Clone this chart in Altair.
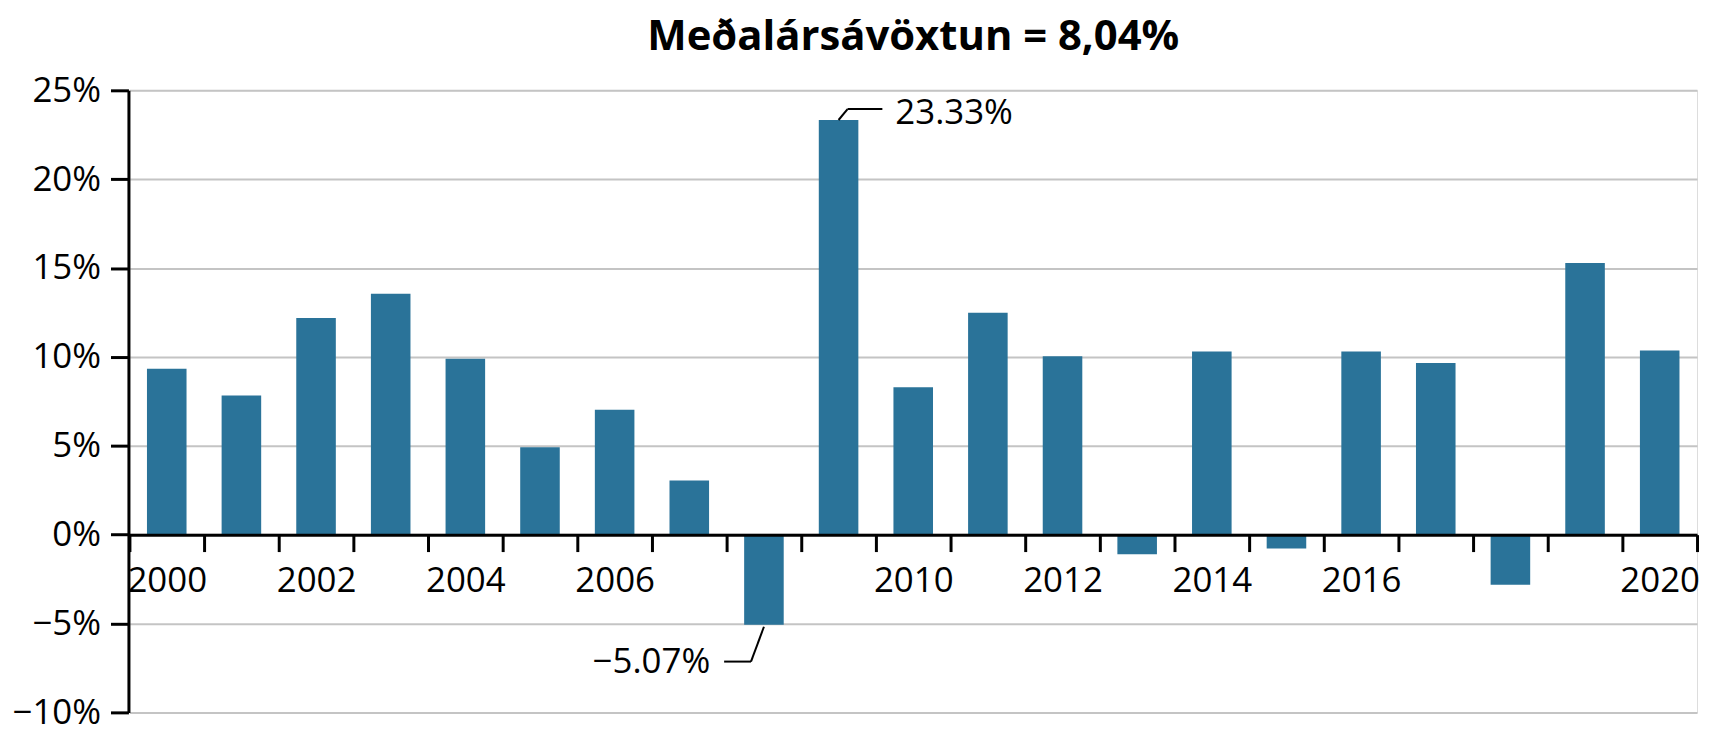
import altair as alt
import pandas as pd

# ---- data ----
years = ["2000", "2001", "2002", "2003", "2004", "2005", "2006", "2007", "2008", "2009", "2010",
         "2011", "2012", "2013", "2014", "2015", "2016", "2017", "2018", "2019", "2020"]
returns = [9.33, 7.83, 12.19, 13.56, 9.89, 4.92, 7.03, 3.05, -5.07, 23.33, 8.30,
           12.49, 10.04, -1.10, 10.31, -0.78, 10.30, 9.66, -2.82, 15.29, 10.36]
shown_year_labels = ["2000", "2002", "2004", "2006", "2010", "2012", "2014", "2016", "2020"]
y_ticks = [-10, -5, 0, 5, 10, 15, 20, 25]
title_text = "Meðalársávöxtun = 8,04%"

df = pd.DataFrame({"year": years, "value": returns})
df["pos"] = df["year"].astype(int)
top_row = df.loc[[df["value"].idxmax()]]
low_row = df.loc[[df["value"].idxmin()]]

FONT = "Open Sans"
BAR = "#2a7399"
W, H = 1575, 625
ZERO_OFFSET = -(H * 10 / 35)  # move the x axis up to the 0% line

label_list = ",".join("'%s'" % s for s in shown_year_labels)

bars = alt.Chart(df).mark_bar(color=BAR, width=alt.RelativeBandSize(0.53)).encode(
    x=alt.X("year:N", sort=years,
            scale=alt.Scale(paddingInner=0, paddingOuter=0),
            axis=alt.Axis(title=None, offset=ZERO_OFFSET, zindex=1,
                          domainColor="black", domainWidth=3,
                          tickBand="extent", tickColor="black", tickWidth=3, tickSize=17,
                          labelFont=FONT, labelFontSize=35, labelColor="black",
                          labelPadding=12, labelAngle=0, labelOverlap=False,
                          labelExpr="indexof([" + label_list + "], datum.value) >= 0 ? datum.value : ''",
                          grid=False)),
    y=alt.Y("value:Q",
            scale=alt.Scale(domain=[-10, 25], nice=False, zero=False),
            axis=alt.Axis(title=None, values=y_ticks, offset=1,
                          labelExpr="datum.label + '%'",
                          domainColor="black", domainWidth=3,
                          tickColor="black", tickWidth=3, tickSize=18,
                          labelFont=FONT, labelFontSize=35, labelColor="black",
                          labelPadding=10,
                          gridColor="#c4c4c4", gridWidth=2)),
)

xq = alt.X("pos:Q", scale=alt.Scale(domain=[1999.5, 2020.5], nice=False, zero=False), axis=None)

def leader(data, **props):
    return alt.Chart(data).mark_rule(color="black", strokeWidth=2, **props).encode(
        x=xq, x2="pos:Q", y="value:Q", y2="value:Q")

up1 = leader(top_row, x2Offset=9, y2Offset=-11)
up2 = leader(top_row, xOffset=9, yOffset=-11, x2Offset=44, y2Offset=-11)
up_text = alt.Chart(top_row).transform_calculate(
    label="format(datum.value, '.2f') + '%'"
).mark_text(align="left", baseline="middle", dx=57, dy=-7, font=FONT, fontSize=35, color="black").encode(
    x=xq, y="value:Q", text="label:N")

dn1 = leader(low_row, yOffset=2, x2Offset=-13, y2Offset=37)
dn2 = leader(low_row, xOffset=-13, yOffset=37, x2Offset=-40, y2Offset=37)
dn_text = alt.Chart(low_row).transform_calculate(
    label="format(datum.value, '.2f') + '%'"
).mark_text(align="right", baseline="middle", dx=-54, dy=37, font=FONT, fontSize=35, color="black").encode(
    x=xq, y="value:Q", text="label:N")

chart = alt.layer(bars, up1, up2, up_text, dn1, dn2, dn_text).resolve_scale(
    x="independent"
).properties(
    width=W, height=H,
    autosize=alt.AutoSizeParams(type="none"),
    padding={"left": 122, "top": 81, "right": 5, "bottom": 18},
    title=alt.TitleParams(title_text, font=FONT, fontSize=42, fontWeight="bold",
                          color="black", anchor="middle", offset=15),
).configure_view(strokeWidth=0).configure(background="white")

chart.save("out.html", embed_options={"renderer": "svg", "actions": False})
